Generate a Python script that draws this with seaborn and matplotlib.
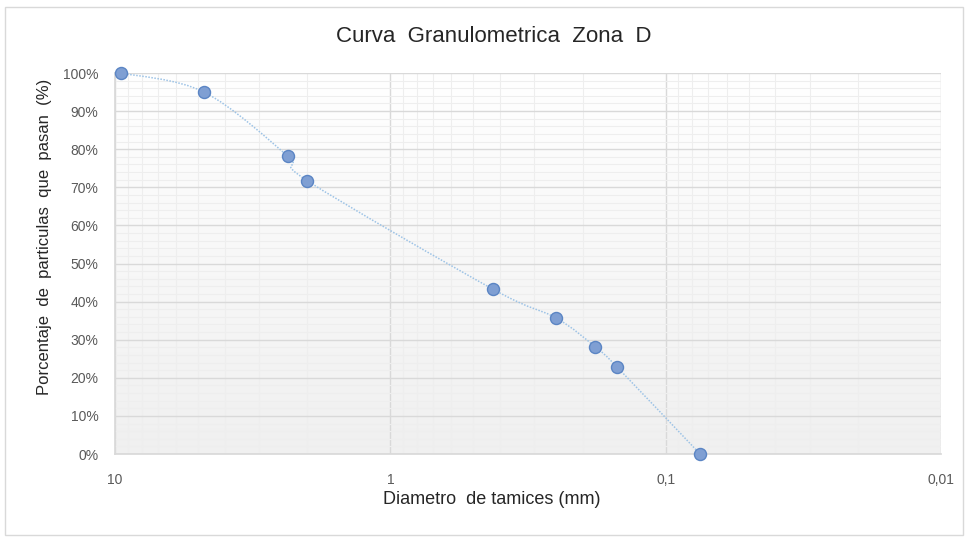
import numpy as np
import pandas as pd
import matplotlib
matplotlib.use("Agg")
import matplotlib.pyplot as plt
import seaborn as sns
from matplotlib.path import Path
from matplotlib.patches import PathPatch, Rectangle
from matplotlib.ticker import FixedLocator, FuncFormatter, MultipleLocator

# sieve openings (mm) and percent passing
diametro = [9.5, 4.75, 2.36, 2.0, 0.425, 0.25, 0.18, 0.15, 0.075]
pasa = [100.0, 95.0, 78.2, 71.7, 43.3, 35.7, 28.1, 22.8, 0.0]
x_ticks = [10, 1, 0.1, 0.01]
x_labels = ["10", "1", "0,1", "0,01"]

df = pd.DataFrame({"diametro": diametro, "pasa": pasa})

sns.set_theme(style="white")
plt.rcParams["font.family"] = ["Liberation Sans", "DejaVu Sans"]

fig = plt.figure(figsize=(9.68, 5.38), dpi=100)
ax = fig.add_axes([0.1188, 0.1561, 0.9721 - 0.1188, 0.8643 - 0.1561])

# outer chart border
fig.patches.append(Rectangle((0.005, 0.005), 0.99, 0.982, transform=fig.transFigure,
                             fill=False, edgecolor="#d9d9d9", linewidth=1))

ax.set_xscale("log")
ax.set_xlim(10, 0.01)
ax.set_ylim(0, 100)

# background gradient, white on top -> light grey at bottom
grad = np.linspace(1, 0, 256).reshape(-1, 1)
ax.imshow(grad, extent=[0, 1, 0, 1], transform=ax.transAxes, aspect="auto",
          cmap=matplotlib.colors.LinearSegmentedColormap.from_list("g", ["#f0f0f0", "#ffffff"]),
          vmin=0, vmax=1, zorder=0)

# grid
ax.xaxis.set_major_locator(FixedLocator(x_ticks))
ax.xaxis.set_major_formatter(FuncFormatter(
    lambda v, p: x_labels[int(np.argmin([abs(np.log10(t) - np.log10(v)) for t in x_ticks]))]))
ax.xaxis.set_minor_locator(FixedLocator([m * 10.0 ** e for e in (-2, -1, 0) for m in range(2, 10)]))
ax.yaxis.set_major_locator(MultipleLocator(10))
ax.yaxis.set_minor_locator(MultipleLocator(2))
ax.yaxis.set_major_formatter(FuncFormatter(lambda v, p: f"{v:.0f}%"))
ax.grid(which="major", color="#d9d9d9", linewidth=1, zorder=1)
ax.grid(which="minor", color="#eeeeee", linewidth=0.8, zorder=1)
ax.set_axisbelow(True)

for s in ["top", "right"]:
    ax.spines[s].set_visible(False)
ax.spines["left"].set_color("#d9d9d9")
ax.spines["bottom"].set_color("#d9d9d9")

# smoothed connector (Catmull-Rom as cubic Bezier in log-x space)
lx = np.log10(diametro)
yy = np.array(pasa)
n = len(lx)
verts = [(diametro[0], pasa[0])]
codes = [Path.MOVETO]
for i in range(n - 1):
    p0 = i - 1 if i > 0 else i
    p3 = i + 2 if i + 2 < n else i + 1
    c1x = lx[i] + (lx[i + 1] - lx[p0]) / 6
    c1y = yy[i] + (yy[i + 1] - yy[p0]) / 6
    c2x = lx[i + 1] - (lx[p3] - lx[i]) / 6
    c2y = yy[i + 1] - (yy[p3] - yy[i]) / 6
    verts += [(10 ** c1x, c1y), (10 ** c2x, c2y), (diametro[i + 1], pasa[i + 1])]
    codes += [Path.CURVE4] * 3
ax.add_patch(PathPatch(Path(verts, codes), fill=False, edgecolor="#9dc3e6",
                       linewidth=1.1, linestyle=(0, (1, 1)), zorder=3))

sns.scatterplot(data=df, x="diametro", y="pasa", ax=ax, s=75, color="#7f9fd3",
                edgecolor="#5b85c4", linewidth=1, zorder=4, clip_on=False)

ax.tick_params(axis="both", which="both", length=0, colors="#595959", labelsize=10)
ax.tick_params(axis="x", pad=14)
ax.tick_params(axis="y", pad=12)

ax.set_title("Curva  Granulometrica  Zona  D", fontsize=16, color="#262626", pad=22,
             x=(494 - 115) / 826)
ax.set_xlabel("Diametro  de tamices (mm)", fontsize=13, color="#262626")
ax.xaxis.set_label_coords((492 - 115) / 826, -(499 - 454) / 381, transform=ax.transAxes)
ax.xaxis.label.set_va("center")
ax.set_ylabel("Porcentaje  de  particulas  que  pasan  (%)", fontsize=12, color="#262626")
ax.yaxis.set_label_coords(-(115 - 45) / 826, (454 - 237) / 381, transform=ax.transAxes)
ax.yaxis.label.set_va("center")

fig.savefig("out.png", dpi=100)
